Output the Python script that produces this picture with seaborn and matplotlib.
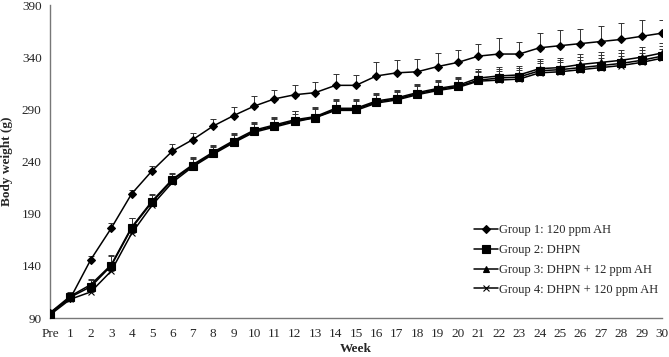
import pandas as pd
import numpy as np
import seaborn as sns
import matplotlib.pyplot as plt
plt.switch_backend('agg')

weeks = list(range(0, 31))
week_labels = ['Pre'] + [str(i) for i in range(1, 31)]
groups = ['Group 1: 120 ppm AH', 'Group 2: DHPN', 'Group 3: DHPN + 12 ppm AH', 'Group 4: DHPN + 120 ppm AH']

g1 = [95, 109, 146, 176, 209, 231, 250, 261, 274, 284, 293, 300, 304, 306, 313, 313,
      322, 325, 326, 331, 335, 341, 343, 343, 349, 351, 353, 355, 357, 360, 363]
g2 = [94, 110, 120, 140, 176, 201, 222, 236, 248, 259, 269, 274, 279, 282, 290, 290,
      297, 300, 305, 309, 312, 318, 320, 321, 327, 328, 330, 332, 334, 337, 341]
g3 = [95, 111, 122, 141, 177, 202, 223, 237, 249, 260, 270, 275, 280, 283, 291, 291,
      298, 301, 306, 310, 313, 320, 322, 323, 329, 330, 333, 335, 337, 340, 344]
g4 = [93, 108, 115, 135, 171, 198, 220, 235, 247, 258, 268, 273, 278, 282, 289, 289,
      296, 299, 304, 308, 311, 317, 318, 319, 325, 326, 328, 330, 332, 335, 339]

e1 = [2, 5, 3, 5, 4, 5, 7, 6, 7, 8, 10, 9, 9, 10, 11, 10,
      13, 12, 12, 13, 12, 12, 15, 12, 14, 15, 14, 15, 16, 16, 13]
e2 = [2, 4, 6, 10, 10, 7, 6, 7, 7, 7, 8, 8, 9, 9, 9, 9,
      8, 8, 8, 8, 8, 9, 9, 9, 9, 9, 10, 10, 10, 10, 10]
e3 = [2, 4, 5, 8, 9, 7, 6, 7, 7, 7, 8, 8, 8, 9, 9, 9,
      8, 8, 8, 8, 8, 9, 9, 9, 9, 9, 10, 10, 10, 10, 10]
e4 = [2, 4, 5, 7, 8, 7, 6, 7, 7, 7, 8, 8, 8, 8, 9, 9,
      8, 8, 8, 8, 8, 9, 9, 9, 9, 9, 9, 9, 9, 9, 9]

sns.set_style('white')
plt.rcParams['font.family'] = ['Liberation Serif', 'DejaVu Serif']

values = [g1, g2, g3, g4]
errors = [e1, e2, e3, e4]
df = pd.DataFrame()
for name, vals in zip(groups, values):
    df_tmp = pd.DataFrame({'Week': weeks, 'Weight': vals})
    df_tmp['Group'] = name
    df = pd.concat([df, df_tmp])
df = df.reset_index(drop=True)

fig = plt.figure(figsize=(6.69, 3.57), dpi=100)
ax = fig.add_axes([50 / 669, 1 - 318 / 357, 612 / 669, 313 / 357])

# upper error bars only
for vals, err in zip(values, errors):
    ax.errorbar(weeks, vals, yerr=[np.zeros(len(err)), err], fmt='none',
                ecolor='#333333', elinewidth=0.7, capsize=2, capthick=0.7, zorder=1)

markers = {groups[0]: 'D', groups[1]: 's', groups[2]: '^', groups[3]: 'x'}
sizes = {groups[0]: 4, groups[1]: 6, groups[2]: 5, groups[3]: 5}
for name in groups:
    sub = df[df['Group'] == name]
    sns.lineplot(data=sub, x='Week', y='Weight', ax=ax, color='black', linewidth=1.1,
                 marker=markers[name], markersize=sizes[name], markeredgecolor='black',
                 markeredgewidth=0.8, label=name, zorder=3)

ax.set_xlim(0, 30)
ax.set_ylim(90, 390)
ax.set_xticks(weeks)
ax.set_xticklabels(week_labels)
ax.set_yticks(range(90, 391, 50))
ax.tick_params(axis='both', direction='in', length=3, color='#777777', labelsize=9.5)
ax.tick_params(axis='x', pad=7)
ax.tick_params(axis='y', pad=6)
for side in ['top', 'right']:
    ax.spines[side].set_visible(False)
for side in ['left', 'bottom']:
    ax.spines[side].set_color('#777777')
    ax.spines[side].set_linewidth(1.0)

ax.set_xlabel('Week', fontsize=9.5, fontweight='bold', labelpad=2)
ax.set_ylabel('Body weight (g)', fontsize=9.5, fontweight='bold', labelpad=6)

ax.legend(loc='upper left', bbox_to_anchor=(0.685, 0.315), frameon=False, fontsize=9,
          handlelength=1.9, handletextpad=0.05, labelspacing=0.62, borderaxespad=0)

plt.savefig('out.png', dpi=100)
plt.close()
